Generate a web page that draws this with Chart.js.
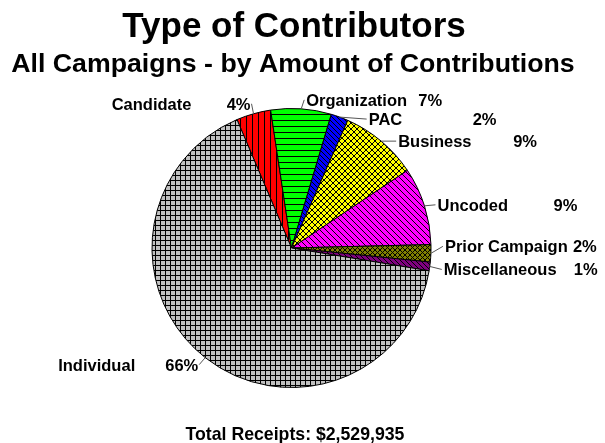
<!DOCTYPE html>
<html>
<head>
  <title>Type of Contributors</title>
  <style>
    html, body {
      margin: 0;
      padding: 0;
      background: #fff;
    }
    #chartContainer {
      width: 605px;
      height: 443px;
    }
  </style>
</head>
<body>
  <div id="chartContainer">
    <canvas id="contribChart"></canvas>
  </div>

  <script src="https://cdn.jsdelivr.net/npm/chart.js"></script>
  <script>
    const categories = ['Candidate', 'Organization', 'PAC', 'Business', 'Uncoded', 'Prior Campaign', 'Miscellaneous', 'Individual'];
    const percentages = [4, 7, 2, 9, 9, 2, 1, 66];
    const totalReceipts = '$2,529,935';

    // label layout: where each leader line ends (relative to the slice edge) and where the percent sits
    const leaderDx = [-2, 3, 27, 15, 11, 12, 12, -6];
    const leaderDy = [-10, -9, 2, 0, -1, -7, 3, 7];
    const pctOffset = [115, 112, 104, 115, 116, 128, 130, 107];

    const canvas = document.getElementById('contribChart');
    const ctx = canvas.getContext('2d');

    function makePattern(bg, kind, size) {
      const c = document.createElement('canvas');
      c.width = size;
      c.height = size;
      const g = c.getContext('2d');
      g.fillStyle = bg;
      g.fillRect(0, 0, size, size);
      g.strokeStyle = '#000';
      g.lineWidth = 1;
      g.beginPath();
      if (kind === 'grid' || kind === 'horiz') {
        g.moveTo(0, 0.5); g.lineTo(size, 0.5);
      }
      if (kind === 'grid' || kind === 'vert') {
        g.moveTo(0.5, 0); g.lineTo(0.5, size);
      }
      if (kind === 'back' || kind === 'cross') {
        g.moveTo(-1, -1); g.lineTo(size + 1, size + 1);
        g.moveTo(-2, size - 2); g.lineTo(2, size + 2);
        g.moveTo(size - 2, -2); g.lineTo(size + 2, 2);
      }
      if (kind === 'fwd' || kind === 'cross') {
        g.moveTo(-1, size + 1); g.lineTo(size + 1, -1);
        g.moveTo(-2, 2); g.lineTo(2, -2);
        g.moveTo(size - 2, size + 2); g.lineTo(size + 2, size - 2);
      }
      g.stroke();
      return ctx.createPattern(c, 'repeat');
    }

    const fills = [
      makePattern('#ff0000', 'vert', 6),
      makePattern('#00ff00', 'horiz', 6),
      makePattern('#0000ff', 'back', 5),
      makePattern('#ffff00', 'cross', 6),
      makePattern('#ff00ff', 'back', 6),
      makePattern('#808000', 'cross', 5),
      makePattern('#800080', 'back', 5),
      makePattern('#c0c0c0', 'grid', 5)
    ];

    const labelFont = 'bold 16.5px "Liberation Sans", Arial, sans-serif';

    const labelPlugin = {
      id: 'labelPlugin',
      afterDraw(chart) {
        const c = chart.ctx;
        const arcs = chart.getDatasetMeta(0).data;
        c.save();

        // titles
        c.fillStyle = '#000';
        c.textAlign = 'center';
        c.textBaseline = 'alphabetic';
        c.font = 'bold 35px "Liberation Sans", Arial, sans-serif';
        c.fillText('Type of Contributors', 294, 37);
        c.font = 'bold 26.7px "Liberation Sans", Arial, sans-serif';
        c.fillText('All Campaigns - by Amount of Contributions', 293, 72);
        c.font = 'bold 17.7px "Liberation Sans", Arial, sans-serif';
        c.fillText('Total Receipts: ' + totalReceipts, 295, 440);

        // slice labels with leader lines
        c.font = labelFont;
        c.strokeStyle = '#555';
        c.lineWidth = 1;
        arcs.forEach((arc, i) => {
          const mid = (arc.startAngle + arc.endAngle) / 2;
          const sx = arc.x + Math.cos(mid) * arc.outerRadius;
          const sy = arc.y + Math.sin(mid) * arc.outerRadius;
          const ex = sx + leaderDx[i];
          const ey = sy + leaderDy[i];
          c.beginPath();
          c.moveTo(sx, sy);
          c.lineTo(ex, ey);
          c.stroke();

          const pct = percentages[i] + '%';
          const right = Math.cos(mid) >= 0;
          c.textAlign = 'left';
          if (right) {
            const nx = ex + 2;
            c.fillText(categories[i], nx, ey + 6);
            c.fillText(pct, nx + pctOffset[i], ey + 6);
          } else {
            const pw = c.measureText(pct).width;
            const px = ex - 1 - pw;
            c.fillText(pct, px, ey + 6);
            c.fillText(categories[i], px - pctOffset[i], ey + 6);
          }
        });
        c.restore();
      }
    };

    new Chart(ctx, {
      type: 'pie',
      data: {
        labels: categories,
        datasets: [{
          data: percentages,
          backgroundColor: fills,
          borderColor: '#000',
          borderWidth: 1
        }]
      },
      options: {
        responsive: true,
        maintainAspectRatio: false,
        animation: false,
        rotation: -23,
        layout: {
          padding: { left: 151, right: 173, top: 108, bottom: 55 }
        },
        plugins: {
          legend: { display: false },
          tooltip: { enabled: false },
          title: { display: false }
        }
      },
      plugins: [labelPlugin]
    });
  </script>
</body>
</html>
